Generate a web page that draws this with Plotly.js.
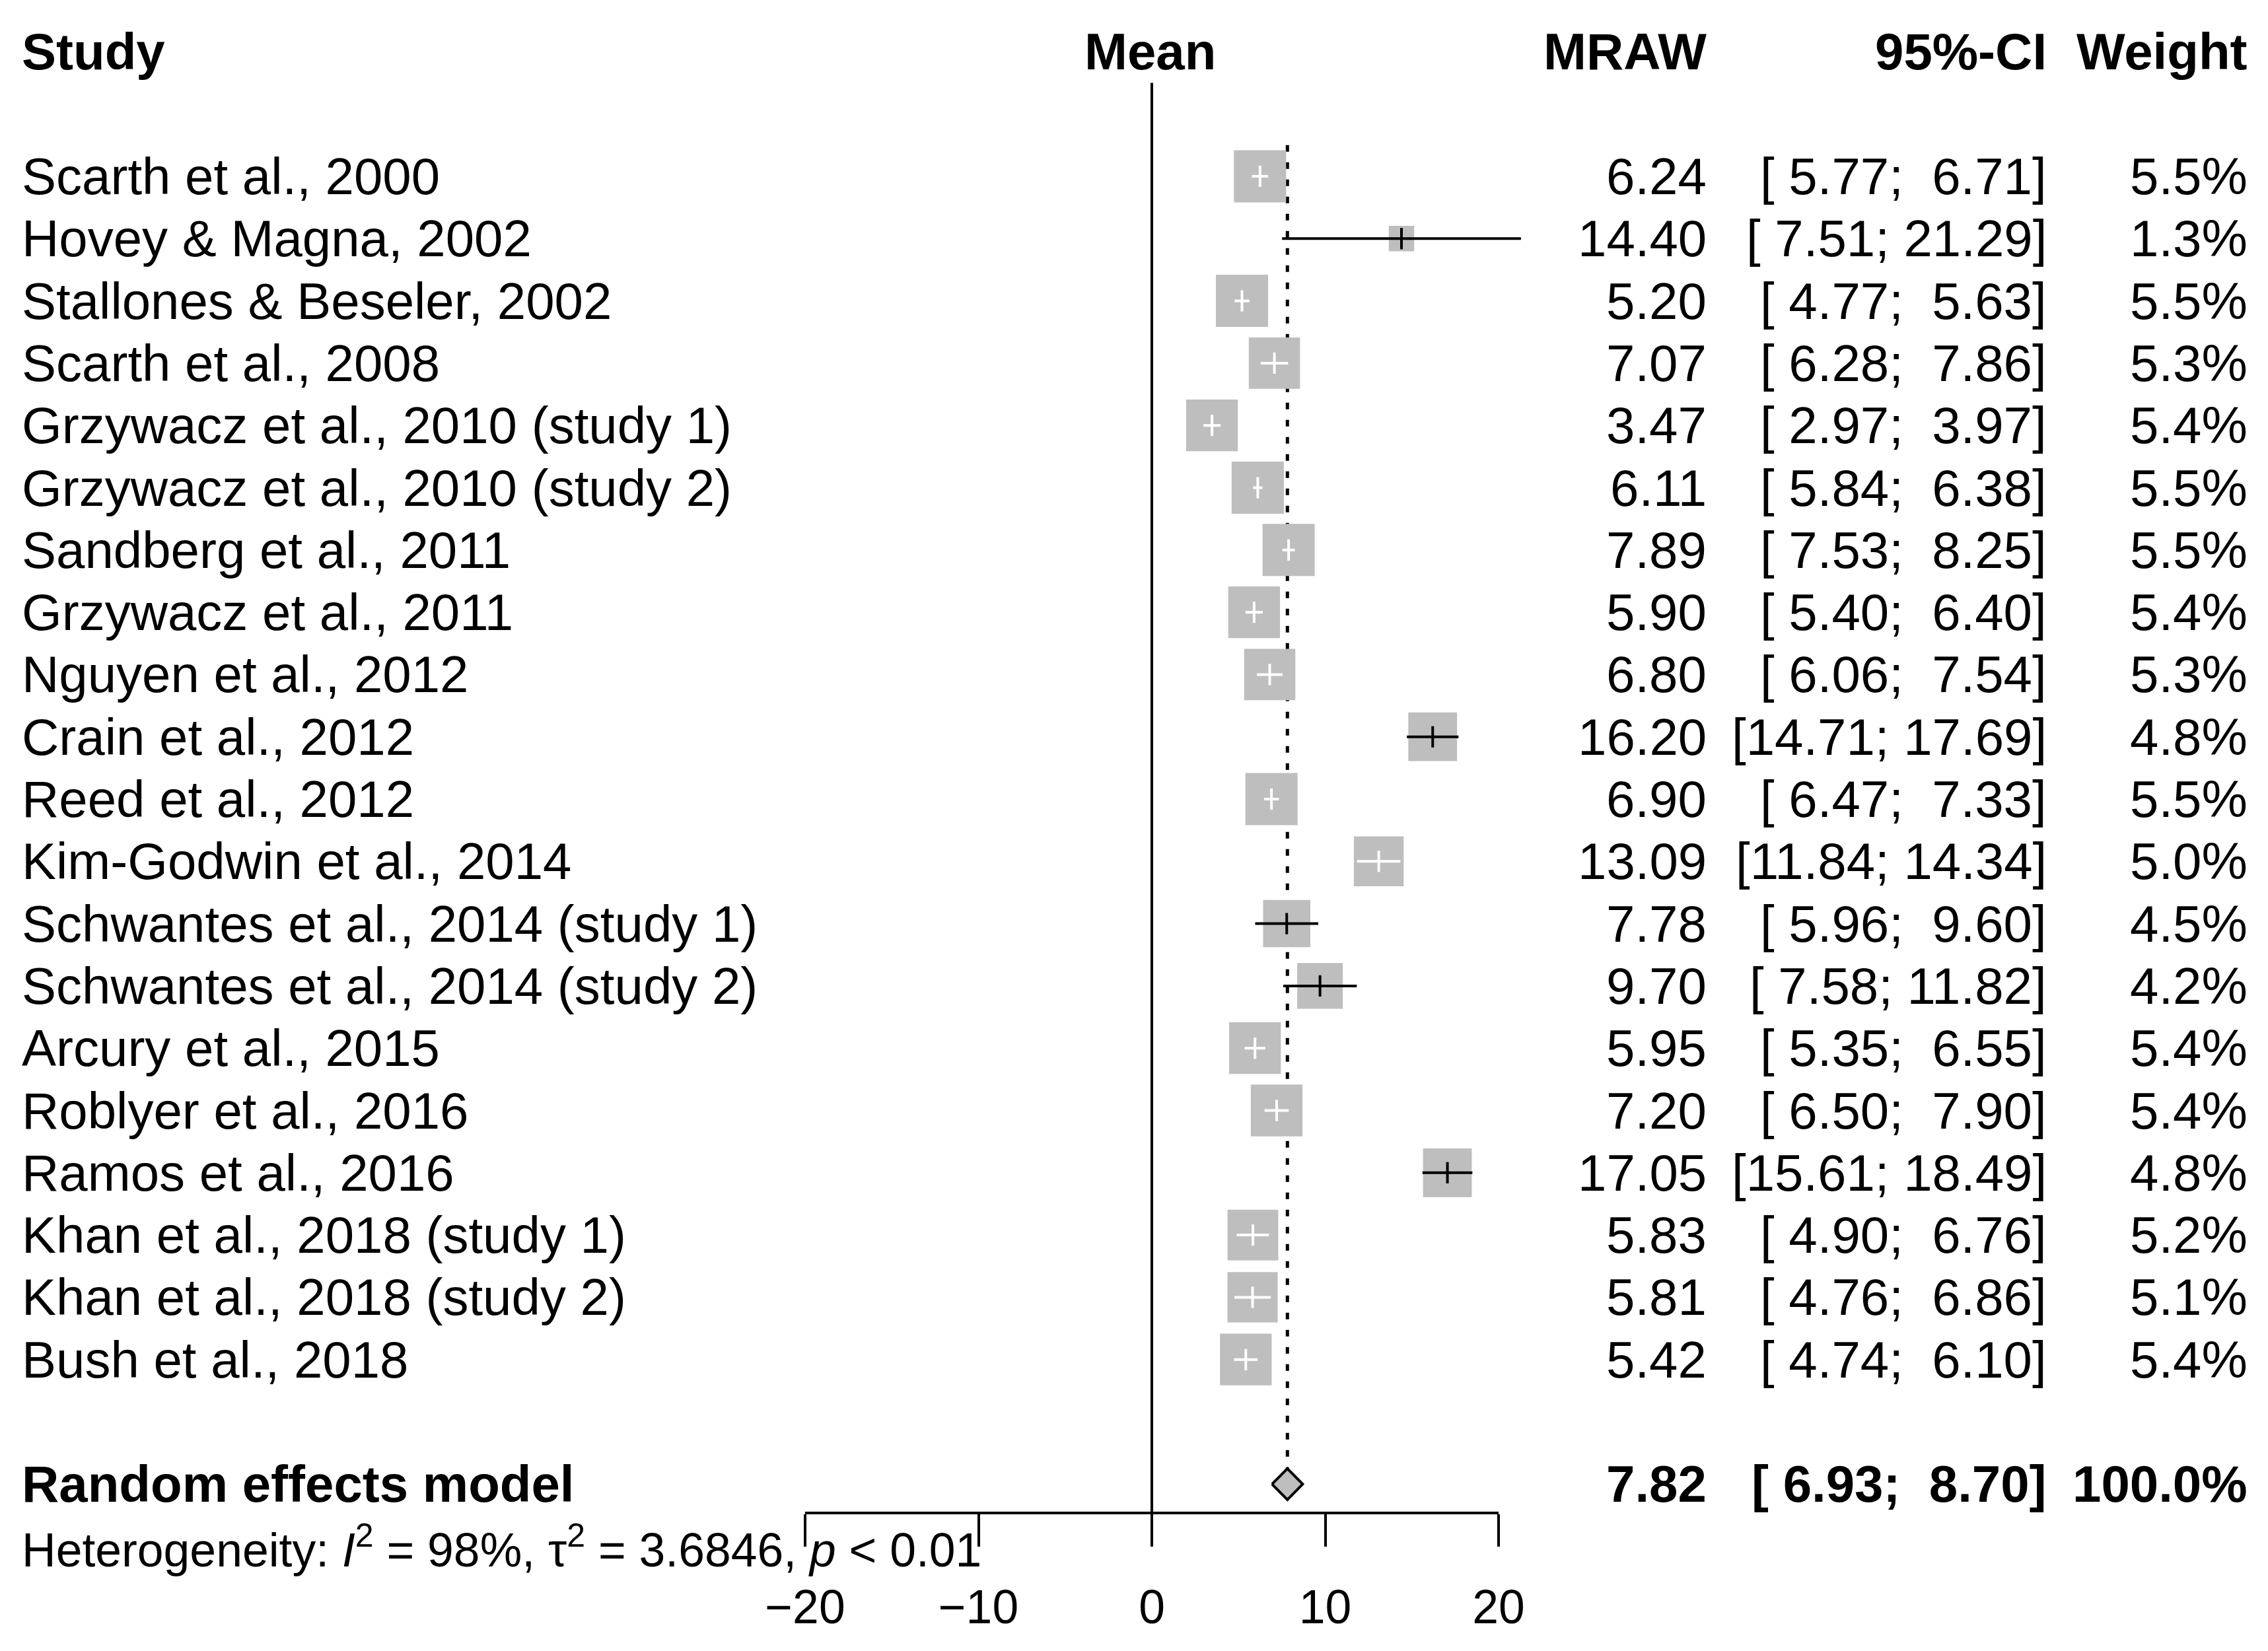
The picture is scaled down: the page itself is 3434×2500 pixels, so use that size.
<!DOCTYPE html>
<html>
<head>
<meta charset="utf-8">
<script src="https://cdn.plot.ly/plotly-3.0.1.min.js"></script>
<style>html,body{margin:0;padding:0;background:#fff;}#chart{width:3434px;height:2500px;}</style>
</head>
<body>
<div id="chart"></div>
<script>
// ---- data ----
const studies = [
  "Scarth et al., 2000",
  "Hovey & Magna, 2002",
  "Stallones & Beseler, 2002",
  "Scarth et al., 2008",
  "Grzywacz et al., 2010 (study 1)",
  "Grzywacz et al., 2010 (study 2)",
  "Sandberg et al., 2011",
  "Grzywacz et al., 2011",
  "Nguyen et al., 2012",
  "Crain et al., 2012",
  "Reed et al., 2012",
  "Kim-Godwin et al., 2014",
  "Schwantes et al., 2014 (study 1)",
  "Schwantes et al., 2014 (study 2)",
  "Arcury et al., 2015",
  "Roblyer et al., 2016",
  "Ramos et al., 2016",
  "Khan et al., 2018 (study 1)",
  "Khan et al., 2018 (study 2)",
  "Bush et al., 2018"
];
const means  = [6.24,14.40,5.20,7.07,3.47,6.11,7.89,5.90,6.80,16.20,6.90,13.09,7.78,9.70,5.95,7.20,17.05,5.83,5.81,5.42];
const lowers = [5.77,7.51,4.77,6.28,2.97,5.84,7.53,5.40,6.06,14.71,6.47,11.84,5.96,7.58,5.35,6.50,15.61,4.90,4.76,4.74];
const uppers = [6.71,21.29,5.63,7.86,3.97,6.38,8.25,6.40,7.54,17.69,7.33,14.34,9.60,11.82,6.55,7.90,18.49,6.76,6.86,6.10];
const weights = [5.5,1.3,5.5,5.3,5.4,5.5,5.5,5.4,5.3,4.8,5.5,5.0,4.5,4.2,5.4,5.4,4.8,5.2,5.1,5.4];
const pooledLabel = "Random effects model";
const pooledMean = 7.82, pooledLower = 6.93, pooledUpper = 8.70, pooledWeight = 100.0;
const hetText = "Heterogeneity: <i>I</i><sup>2</sup> = 98%, \u03c4<sup>2</sup> = 3.6846, <i>p</i> &lt; 0.01";
const headers = {study: "Study", mean: "Mean", mraw: "MRAW", ci: "95%-CI", weight: "Weight"};
const axisTicks = [-20, -10, 0, 10, 20];

// ---- geometry (page pixels) ----
const W = 3434, H = 2500;
const X0 = 1744, PXU = 26.25;          // x=0 position and px per unit
const ROW0 = 267, ROWH = 94.3;         // first row centre and row height
const FONT = "Liberation Sans, Arial, Helvetica, sans-serif";
const FS = 78, FS_SMALL = 71.5;
const nS = studies.length;
const rowPooled = nS + 1, rowHet = nS + 2, rowHead = -2;

const xr = [-X0 / PXU, (W - X0) / PXU];
const yr = [(H - ROW0) / ROWH, -ROW0 / ROWH];
const rows = studies.map((_, i) => i);
const sidePx = weights.map(w => 33.7 * Math.sqrt(w));
const inside = rows.map(i => (uppers[i] - lowers[i]) / 2 * PXU <= sidePx[i] / 2 + 0.5);

const traces = [];
// reference line at 0
traces.push({x: [0, 0], y: [-1.5, 21.45], mode: 'lines', line: {color: '#000', width: 4}, hoverinfo: 'skip'});
// pooled estimate dotted line
traces.push({x: [pooledMean, pooledMean], y: [-0.5, rowPooled - 0.25], mode: 'lines',
  line: {color: '#000', width: 5, dash: '10px,16px'}, hoverinfo: 'skip'});
// squares
traces.push({x: means, y: rows, mode: 'markers', type: 'scatter',
  marker: {symbol: 'square', size: sidePx, sizemode: 'diameter', opacity: 1, color: '#BEBEBE', line: {width: 0}}, hoverinfo: 'skip'});
// CI lines
function ciTrace(flag, color) {
  const xs = [], ys = [];
  rows.forEach(i => { if (inside[i] === flag) { xs.push(lowers[i], uppers[i], null); ys.push(i, i, null); } });
  return {x: xs, y: ys, mode: 'lines', line: {color: color, width: 4}, hoverinfo: 'skip', connectgaps: false};
}
traces.push(ciTrace(true, '#ffffff'));
traces.push(ciTrace(false, '#000000'));
// centre ticks
function tickTrace(flag, color) {
  const xs = [], ys = [];
  rows.forEach(i => { if (inside[i] === flag) { xs.push(means[i]); ys.push(i); } });
  return {x: xs, y: ys, mode: 'markers', marker: {symbol: 'line-ns', size: 23, opacity: 1, line: {color: color, width: 4}}, hoverinfo: 'skip'};
}
traces.push(tickTrace(true, '#ffffff'));
traces.push(tickTrace(false, '#000000'));
// diamond
const dh = 0.25;
traces.push({x: [pooledLower, pooledMean, pooledUpper, pooledMean, pooledLower],
  y: [rowPooled, rowPooled - dh, rowPooled, rowPooled + dh, rowPooled],
  mode: 'lines', fill: 'toself', fillcolor: '#BEBEBE', line: {color: '#000', width: 4}, hoverinfo: 'skip'});
// axis carrier (invisible point so xaxis2 renders)
traces.push({x: [0], y: [0], xaxis: 'x2', yaxis: 'y2', mode: 'markers', marker: {opacity: 0}, hoverinfo: 'skip'});

// ---- text ----
const pad = v => v.toFixed(2).padStart(5, '\u00a0');
const ciStr = (l, u) => '[' + pad(l) + ';\u00a0' + pad(u) + ']';
const px = p => p / W;
const ann = [];
function t(text, xpx, y, anchor, size) {
  ann.push({text: text, xref: 'paper', yref: 'y', x: px(xpx), y: y, xanchor: anchor, yanchor: 'middle',
    showarrow: false, font: {family: FONT, size: size || FS, color: '#000'}});
}
const XL = 31, XMRAW = 2586, XCI = 3101, XW = 3405;
t('<b>' + headers.study + '</b>', XL, rowHead, 'left');
t('<b>' + headers.mean + '</b>', X0 - 3, rowHead, 'center');
t('<b>' + headers.mraw + '</b>', XMRAW, rowHead, 'right');
t('<b>' + headers.ci + '</b>', XCI, rowHead, 'right');
t('<b>' + headers.weight + '</b>', XW, rowHead, 'right');
rows.forEach(i => {
  t(studies[i].replace(/&/g, '&amp;'), XL, i, 'left');
  t(means[i].toFixed(2), XMRAW, i, 'right');
  t(ciStr(lowers[i], uppers[i]), XCI, i, 'right');
  t(weights[i].toFixed(1) + '%', XW, i, 'right');
});
t('<b>' + pooledLabel + '</b>', XL, rowPooled, 'left');
t('<b>' + pooledMean.toFixed(2) + '</b>', XMRAW, rowPooled, 'right');
t('<b>' + ciStr(pooledLower, pooledUpper) + '</b>', XCI, rowPooled, 'right');
t('<b>' + pooledWeight.toFixed(1) + '%</b>', XW, rowPooled, 'right');
t(hetText, XL, rowHet, 'left', FS_SMALL);

const layout = {
  width: W, height: H, autosize: false,
  margin: {l: 0, r: 0, t: 0, b: 0, pad: 0},
  paper_bgcolor: '#fff', plot_bgcolor: 'rgba(0,0,0,0)',
  showlegend: false,
  xaxis: {domain: [0, 1], range: xr, visible: false, fixedrange: true},
  yaxis: {domain: [0, 1], range: yr, visible: false, fixedrange: true},
  xaxis2: {domain: [(X0 - 20 * PXU) / W, (X0 + 20 * PXU) / W], range: [-20, 20], anchor: 'y2', side: 'bottom',
    showline: true, linecolor: '#000', linewidth: 4, ticks: 'outside', ticklen: 49, tickwidth: 4, tickcolor: '#000',
    ticklabelstandoff: 30,
    tickvals: axisTicks, ticktext: axisTicks.map(v => (v < 0 ? '\u2212' : '') + Math.abs(v)),
    tickfont: {family: FONT, size: FS_SMALL, color: '#000'}, showgrid: false, zeroline: false, fixedrange: true},
  yaxis2: {domain: [1 - 2289 / H, 1 - 2280 / H], anchor: 'x2', visible: false, range: [0, 1]},
  annotations: ann
};
Plotly.newPlot('chart', traces, layout, {displayModeBar: false, staticPlot: true});
</script>
</body>
</html>
